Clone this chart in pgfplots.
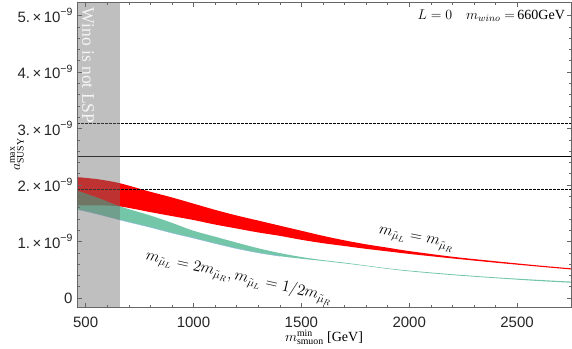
\documentclass[border=0pt]{standalone}
\usepackage{fix-cm}
\usepackage{fontspec}
\setmainfont{Liberation Serif}
\newfontfamily\tickfont{Liberation Sans}
\usepackage{pgfplots}
\pgfplotsset{compat=1.18}
\usepgfplotslibrary{fillbetween}
\definecolor{wgreen}{rgb}{0.214,0.686,0.514}
\definecolor{frame}{rgb}{0.40,0.40,0.40}
\newcommand{\sci}[1]{#1.\kern2.5pt×\kern2.5pt10\raisebox{0.85ex}{\fontsize{10.5}{11}\selectfont −9}}
\pgfplotstableread{
x    rt     rb     gt     gb
460  2.14   1.64   1.90   1.57
560  2.10   1.64   1.77   1.48
660  2.03   1.62   1.62   1.38
800  1.88   1.52   1.46   1.25
900  1.78   1.45   1.33   1.15
1000 1.67   1.38   1.19   1.06
1100 1.56   1.30   1.085  0.965
1200 1.46   1.23   0.98   0.875
1300 1.37   1.16   0.88   0.80
1400 1.28   1.10   0.795  0.74
1500 1.19   1.03   0.725  0.695
1600 1.10   0.97   0.67   0.655
1700 1.02   0.92   0.625  0.612
1800 0.95   0.87   0.575  0.565
1900 0.89   0.825  0.525  0.515
2000 0.83   0.78   0.485  0.472
2200 0.73   0.70   0.42   0.405
2400 0.65   0.625  0.365  0.35
2600 0.575  0.555  0.32   0.30
2750 0.525  0.505  0.29   0.27
}\bands
\begin{document}
\begin{tikzpicture}
\begin{axis}[
  at={(0,0)}, anchor=south west, scale only axis,
  width=494pt, height=305pt,
  xmin=460, xmax=2750, ymin=-0.16, ymax=5.24,
  xtick={500,1000,1500,2000,2500},
  xticklabels={500,1000,1500,2000,2500},
  ytick={0,1,2,3,4,5},
  yticklabels={0,\sci1,\sci2,\sci3,\sci4,\sci5},
  minor x tick num=4, minor y tick num=4,
  tick align=inside, major tick length=4.5pt, minor tick length=2.5pt,
  tick style={frame, line width=0.5pt},
  axis line style={frame, line width=0.7pt},
  ticklabel style={font=\tickfont\fontsize{15}{17}\selectfont, text=black!85},
  xticklabel style={yshift=-6pt},
  yticklabel style={xshift=-1pt},
  axis on top,
  xlabel={$m_{\mathrm{smuon}}^{\mathrm{min}}$ [GeV]},
  ylabel={$a_{\mathrm{SUSY}}^{\mathrm{max}}$},
  every axis x label/.style={at={(axis description cs:0.5,-0.1)}, anchor=center, font=\fontsize{14}{16}\selectfont},
  every axis y label/.style={at={(axis description cs:-0.1215,0.5)}, anchor=center, rotate=90, font=\fontsize{14}{16}\selectfont},
]
\addplot[name path=RT, draw=none, smooth] table[x=x,y=rt] {\bands};
\addplot[name path=RB, draw=none, smooth] table[x=x,y=rb] {\bands};
\addplot[fill=red, draw=none] fill between[of=RT and RB];
\addplot[name path=GT, draw=none, smooth] table[x=x,y=gt] {\bands};
\addplot[name path=GB, draw=none, smooth] table[x=x,y=gb] {\bands};
\addplot[fill=wgreen, fill opacity=0.7, draw=none] fill between[of=GT and GB];
\addplot[smooth, restrict x to domain=460:1400, draw={rgb,1:red,0.6;green,0.7;blue,0.92}, line width=0.35pt] table[x=x,y=gb] {\bands};
\addplot[black, line width=0.6pt] coordinates {(460,2.51) (2750,2.51)};
\addplot[black, line width=0.5pt, dash pattern=on 2.5pt off 1.5pt] coordinates {(460,3.10) (2750,3.10)};
\addplot[black, line width=0.5pt, dash pattern=on 2.5pt off 1.5pt] coordinates {(460,1.92) (2750,1.92)};
\addplot[fill=black!56, fill opacity=0.45, draw=none] coordinates {(455,-0.3) (660,-0.3) (660,5.4) (455,5.4)} -- cycle;
\node[rotate=-90, anchor=west, text=white, text opacity=0.85, font=\fontsize{17.5}{19}\selectfont, inner sep=0pt] at (axis cs:511,5.14) {Wino is not LSP};
\node[anchor=east, font=\fontsize{14}{16}\selectfont, inner sep=0pt] at (rel axis cs:0.988,0.955) {$L=0$\quad $m_{wino}=$\,660GeV};
\node[rotate=-11.5, font=\fontsize{16}{19}\selectfont] at (axis cs:2031,1.03) {$m_{\tilde\mu_L}=m_{\tilde\mu_R}$};
\node[rotate=-13, font=\fontsize{16}{19}\selectfont] at (axis cs:1211,0.37) {$m_{\tilde\mu_L}=2m_{\tilde\mu_R},m_{\tilde\mu_L}=1/2m_{\tilde\mu_R}$};
\end{axis}
\pgfresetboundingbox
\path[use as bounding box] (-77pt,-41pt) rectangle (495pt,307pt);
\end{tikzpicture}
\end{document}
